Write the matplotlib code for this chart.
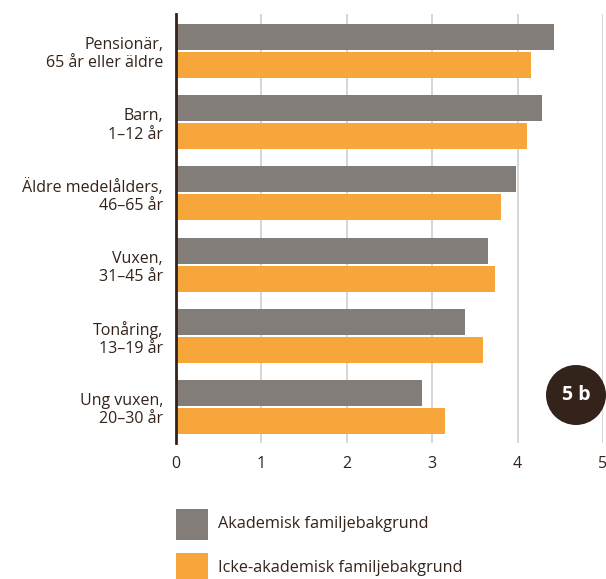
import matplotlib
matplotlib.use("Agg")
import matplotlib.pyplot as plt
from matplotlib.patches import Ellipse, Rectangle
import numpy as np

plt.rcParams['font.family'] = ['Open Sans', 'DejaVu Sans']

categories = ["Pensionär,\n65 år eller äldre", "Barn,\n1–12 år", "Äldre medelålders,\n46–65 år",
              "Vuxen,\n31–45 år", "Tonåring,\n13–19 år", "Ung vuxen,\n20–30 år"]
akademisk = [4.43, 4.29, 3.98, 3.65, 3.39, 2.88]
icke_akademisk = [4.16, 4.11, 3.81, 3.74, 3.60, 3.15]
series_names = ["Akademisk familjebakgrund", "Icke-akademisk familjebakgrund"]
xticks = [0, 1, 2, 3, 4, 5]

gray = "#827d79"
orange = "#f7a63c"
dark = "#33231a"

W, H = 606, 579
fig = plt.figure(figsize=(W / 100, H / 100), dpi=100)
ax = fig.add_axes([175.5 / W, 1 - 443 / H, (603 - 175.5) / W, (443 - 14) / H])

pos = np.arange(len(categories))
step = 71.2
h = 26 / step
off = 14 / step
ax.barh(pos - off, akademisk, height=h, color=gray, zorder=3)
ax.barh(pos + off, icke_akademisk, height=h, color=orange, zorder=3)

ax.set_xlim(0, 5)
ax.set_ylim(5 + 36 / step, -37 / step)
ax.set_xticks(xticks)
ax.set_xticklabels([str(t) for t in xticks], fontsize=11.5, color=dark)
ax.set_yticks(pos)
ax.set_yticklabels(categories, fontsize=11.5, color=dark, linespacing=1.2)
ax.tick_params(axis='both', length=0)
ax.tick_params(axis='y', pad=9)
ax.tick_params(axis='x', pad=9)
for t in xticks[1:]:
    ax.axvline(t, color="#d0cfcf", lw=1.2, zorder=1)
for s in ['top', 'right', 'bottom']:
    ax.spines[s].set_visible(False)
ax.spines['left'].set_color(dark)
ax.spines['left'].set_linewidth(2)
ax.spines['left'].set_zorder(4)

# badge
fig.patches.append(Ellipse((576 / W, 1 - 395 / H), 60 / W, 60 / H, transform=fig.transFigure,
                           facecolor="#33231a", edgecolor='none'))
fig.text(576 / W, 1 - 395 / H, "5 b", ha='center', va='center', color='white',
         fontsize=14, fontweight='bold')

# legend
for i, (name, col) in enumerate(zip(series_names, [gray, orange])):
    y0 = 509 + i * 44
    fig.patches.append(Rectangle((176 / W, 1 - (y0 + 31) / H), 32 / W, 31 / H,
                                 transform=fig.transFigure, facecolor=col, edgecolor='none'))
    fig.text(218 / W, 1 - (y0 + 15) / H, name, ha='left', va='center', color=dark, fontsize=11.7)

fig.savefig("out.png", dpi=100)
